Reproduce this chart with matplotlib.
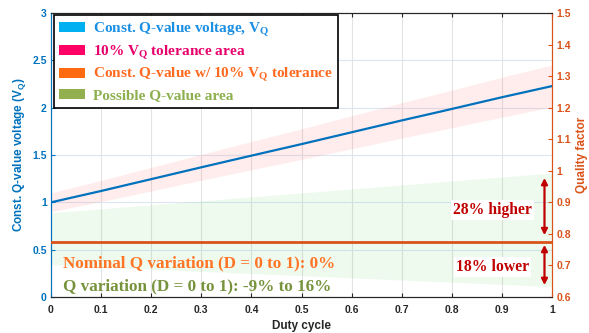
import numpy as np
import matplotlib
matplotlib.use("Agg")
import matplotlib.pyplot as plt
from matplotlib.patches import Patch

# ---- data ----
duty = [0.0, 0.1, 0.2, 0.3, 0.377, 0.5, 0.6, 0.7, 0.776, 0.9, 1.0]
v_q = [1.00, 1.12, 1.245, 1.37, 1.465, 1.615, 1.74, 1.865, 1.957, 2.11, 2.228]
v_tol = 0.10
q_nominal = 0.775
q_upper = [0.867, 0.993]   # at D = 0 and D = 1
q_lower = [0.702, 0.633]
d_edges = [0.0, 1.0]

x_ticks = [0, 0.1, 0.2, 0.3, 0.4, 0.5, 0.6, 0.7, 0.8, 0.9, 1]
x_ticklabels = ["0", "0.1", "0.2", "0.3", "0.4", "0.5", "0.6", "0.7", "0.8", "0.9", "1"]
left_ticks = [0, 0.5, 1, 1.5, 2, 2.5, 3]
left_ticklabels = ["0", "0.5", "1", "1.5", "2", "2.5", "3"]
right_ticks = [0.6, 0.7, 0.8, 0.9, 1.0, 1.1, 1.2, 1.3, 1.4, 1.5]
right_ticklabels = ["0.6", "0.7", "0.8", "0.9", "1", "1.1", "1.2", "1.3", "1.4", "1.5"]

legend_labels = [r"Const. Q-value voltage, $\mathregular{V_Q}$",
                 r"10% $\mathregular{V_Q}$ tolerance area",
                 r"Const. Q-value w/ 10% $\mathregular{V_Q}$ tolerance",
                 "Possible Q-value area"]
legend_patch_colors = ["#00B0F0", "#FF0066", "#FF6A10", "#92B050"]
legend_text_colors = ["#1A8FE3", "#E8006A", "#FF6A1F", "#8DB04E"]

# ---- style ----
plt.rcParams['mathtext.default'] = 'regular'
BLUE = "#0072BD"
ORANGE = "#D95319"
DARK = "#262626"
DRED = "#C00000"
sans = "Liberation Sans"
serif = "Liberation Serif"

fig = plt.figure(figsize=(5.89, 3.33), dpi=100)
ax = fig.add_axes([51/589, 1-297/333, (552-51)/589, (297-13)/333])
ax2 = ax.twinx()

# grid
for xt in x_ticks[1:-1]:
    ax.axvline(xt, color="#E3E3E3", lw=0.8, zorder=0)
for yt in left_ticks[1:-1]:
    ax.axhline(yt, color="#DCE6F2", lw=0.8, zorder=0)

v = np.array(v_q)
ax.fill_between(duty, v*(1-v_tol), v*(1+v_tol), color="#FF3030", alpha=0.085, lw=0, zorder=1)
ax.plot(duty, v, color=BLUE, lw=1.6, zorder=3)

ax2.fill_between(d_edges, q_lower, q_upper, color="#20C020", alpha=0.07, lw=0, zorder=1)
ax2.axhline(q_nominal, color=ORANGE, lw=2.0, zorder=3)

ax.set_xlim(0, 1)
ax.set_ylim(0, 3)
ax2.set_ylim(0.6, 1.5)

ax.set_xticks(x_ticks)
ax.set_xticklabels(x_ticklabels)
ax.set_yticks(left_ticks)
ax.set_yticklabels(left_ticklabels)
ax2.set_yticks(right_ticks)
ax2.set_yticklabels(right_ticklabels)

tfont = dict(family=sans, weight="bold", size=7.5)
for lab in ax.get_xticklabels():
    lab.set(**tfont, color=DARK)
for lab in ax.get_yticklabels():
    lab.set(**tfont, color=BLUE)
for lab in ax2.get_yticklabels():
    lab.set(**tfont, color=ORANGE)

ax.tick_params(axis='x', direction='in', length=3, color=DARK, top=True, pad=6)
ax.tick_params(axis='y', direction='in', length=3, color=BLUE, pad=3)
ax2.tick_params(axis='y', direction='in', length=3, color=ORANGE, pad=3)

for a in (ax, ax2):
    a.spines['top'].set_color(DARK)
    a.spines['bottom'].set_color(DARK)
    a.spines['left'].set_color(BLUE)
    a.spines['right'].set_color(ORANGE)
    for s in a.spines.values():
        s.set_linewidth(0.8)

ax.set_xlabel("Duty cycle", family=sans, weight="bold", size=8.5, color=DARK, labelpad=3)
ax.set_ylabel(r"Const. Q-value voltage ($\mathregular{V_Q}$)", family=sans, weight="bold",
              size=8.5, color=BLUE, labelpad=3)
ax2.set_ylabel("Quality factor", family=sans, weight="bold", size=8.5, color=ORANGE, labelpad=4)

# arrows and annotations
arr = dict(arrowstyle="<|-|>,head_length=0.35,head_width=0.18", color=DRED, lw=1.6,
           shrinkA=0, shrinkB=0)
ax2.annotate("", xy=(0.985, 0.977), xytext=(0.985, 0.796), arrowprops=arr, zorder=5)
ax2.annotate("", xy=(0.985, 0.765), xytext=(0.985, 0.638), arrowprops=arr, zorder=5)
bb = dict(facecolor="white", edgecolor="none", pad=1.5)
ax2.text(0.882, 0.876, "28% higher", family=serif, weight="bold", size=11.3, color=DRED,
         ha="center", va="center", bbox=bb, zorder=6)
ax2.text(0.882, 0.694, "18% lower", family=serif, weight="bold", size=11.3, color=DRED,
         ha="center", va="center", bbox=bb, zorder=6)

ax2.text(0.023, 0.35, "Nominal Q variation (D = 0 to 1): 0%", transform=ax.transData,
         family=serif, weight="bold", size=12.3, color="#FF7525", ha="left", va="center", zorder=6)
ax2.text(0.023, 0.11, "Q variation (D = 0 to 1): -9% to 16%", transform=ax.transData,
         family=serif, weight="bold", size=12.3, color="#77933C", ha="left", va="center", zorder=6)

# legend
handles = [Patch(facecolor=c, edgecolor="none") for c in legend_patch_colors]
leg = ax2.legend(handles, legend_labels, loc="upper left",
                 bbox_to_anchor=(54/589, 1-15/333), bbox_transform=fig.transFigure,
                 prop=dict(family=serif, weight="bold", size=11.0),
                 handlelength=1.65, handleheight=0.62, handletextpad=0.55,
                 labelspacing=0.3, borderpad=0.35, borderaxespad=0,
                 fancybox=False, framealpha=1, edgecolor="black")
leg.get_frame().set_linewidth(1.2)
leg.set_zorder(10)
for t, c in zip(leg.get_texts(), legend_text_colors):
    t.set_color(c)

fig.savefig("out.png", dpi=100)
